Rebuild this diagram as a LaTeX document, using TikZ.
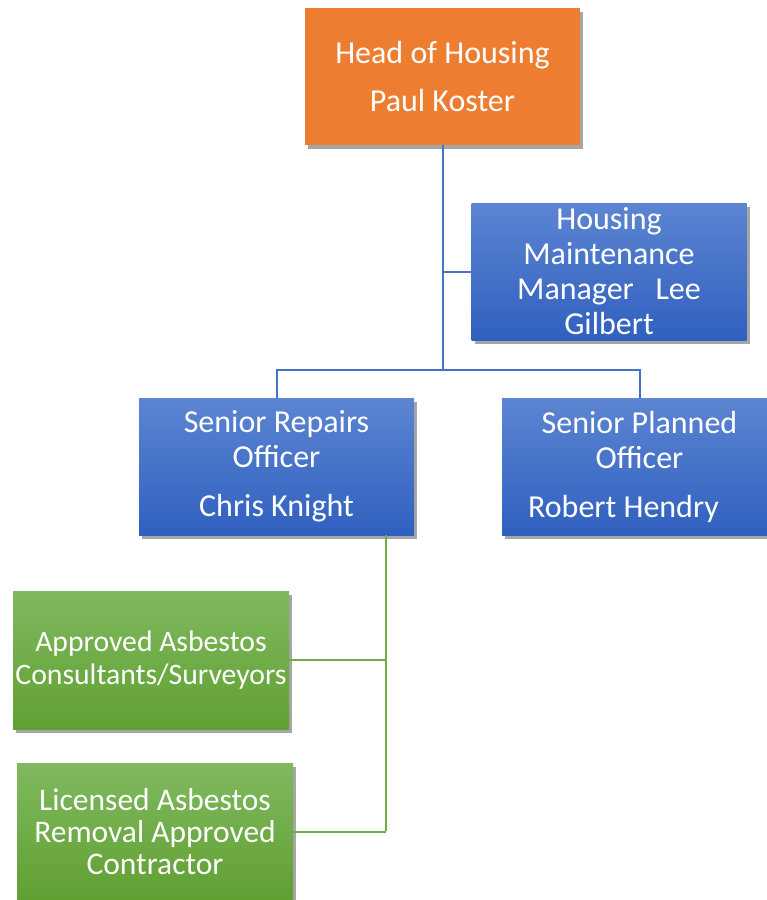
\documentclass[tikz,border=0pt]{standalone}
\usepackage{fontspec}
\setmainfont{Carlito}
\usetikzlibrary{shadows}
\definecolor{orangebox}{HTML}{ED7D31}
\definecolor{bluetop}{HTML}{5C85D2}
\definecolor{bluebot}{HTML}{3060BF}
\definecolor{greentop}{HTML}{80B95F}
\definecolor{greenbot}{HTML}{60A032}
\definecolor{blueline}{HTML}{4472C4}
\definecolor{greenline}{HTML}{70AD47}
\tikzset{
  box/.style={rectangle, inner sep=0pt, minimum width=275pt, minimum height=137pt,
    text=white, align=center, font=\fontsize{32}{35}\selectfont,
    drop shadow={shadow xshift=3pt, shadow yshift=-4pt, opacity=0.35, fill=black}},
  orangebox/.style={box, fill=orangebox},
  bluebox/.style={box, top color=bluetop, bottom color=bluebot},
  greenbox/.style={box, top color=greentop, bottom color=greenbot},
  blink/.style={draw=blueline, line width=2pt},
  glink/.style={draw=greenline, line width=2pt}
}
\begin{document}
\begin{tikzpicture}[x=1pt, y=-1pt]
\useasboundingbox (0,0) rectangle (767,900);
\fill[white] (0,0) rectangle (767,900);
\coordinate (bus) at (442.5,370);
\coordinate (gbus) at (386,831);
\node[orangebox] (head) at (442.5,76.5) {Head of Housing\\[13pt]Paul Koster};
\node[bluebox] (hmm) at (609,271.5) {Housing\\Maintenance\\Manager\ \ \ Lee\\Gilbert};
\node[bluebox] (sro) at (276.5,466.5) {Senior Repairs\\Officer\\[14pt]Chris Knight};
\node[bluebox] (spo) at (639.5,466.5) {Senior Planned\\Officer\\[14pt]Robert Hendry\rule{32pt}{0pt}};
\node[greenbox, minimum width=276pt, minimum height=138pt, font=\fontsize{29.7}{33}\selectfont] (g1) at (151,660) {Approved Asbestos\\Consultants/Surveyors};
\node[greenbox, minimum width=276pt, font=\fontsize{31.5}{32}\selectfont] (g2) at (155,831.5) {Licensed Asbestos\\Removal Approved\\Contractor};
\draw[blink] (head.south) -- (bus);
\draw[blink] (head.south |- hmm.west) -- (hmm.west);
\draw[blink] (sro.north) |- (bus) -| (spo.north);
\draw[glink] (sro.south -| gbus) -- (gbus);
\draw[glink] (g1.east) -- (g1.east -| gbus);
\draw[glink] (g2.east -| gbus) -- (g2.east);
\end{tikzpicture}
\end{document}
